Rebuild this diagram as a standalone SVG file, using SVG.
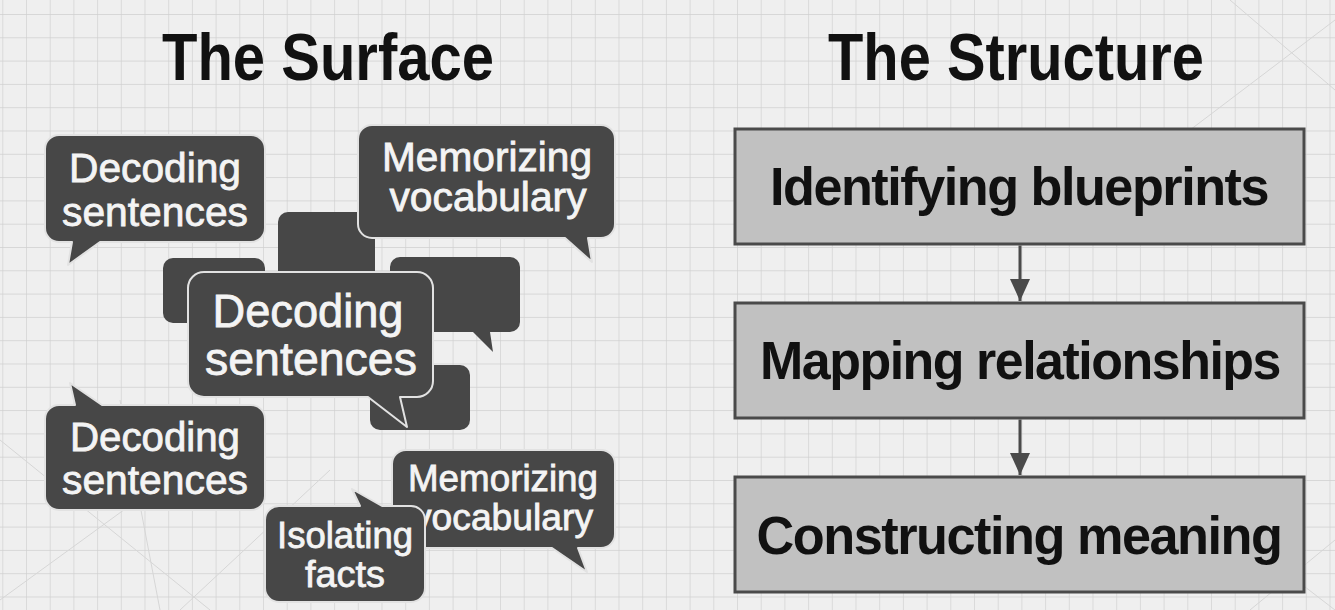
<svg xmlns="http://www.w3.org/2000/svg" width="1335" height="610" viewBox="0 0 1335 610">
<style>
.title{font-family:"Liberation Sans",Arial,sans-serif;font-weight:bold;font-size:66px;fill:#111;text-anchor:middle}
.bub{fill:#474747;stroke:#e2e2e2;stroke-width:2;stroke-linejoin:round}
.blank{fill:#474747}
.bt{font-family:"Liberation Sans",Arial,sans-serif;fill:#f4f4f4;stroke:#f4f4f4;stroke-width:0.8;text-anchor:middle}
.box{fill:#c1c1c1;stroke:#4a4a4a;stroke-width:3}
.btxt{font-family:"Liberation Sans",Arial,sans-serif;font-weight:bold;font-size:53px;letter-spacing:-1.5px;fill:#111;text-anchor:middle}
.conn{stroke:#4a4a4a;stroke-width:3;fill:none}
.diag{stroke:#d6d6d6;stroke-width:1;fill:none}
</style>
<defs>
<pattern id="grid" x="2.3" y="14" width="23.7" height="23.3" patternUnits="userSpaceOnUse">
<path d="M0,0 V23.3 M0,0 H23.7" stroke="#cfcfcf" stroke-width="1.3" fill="none"/>
</pattern>
<marker id="arr" viewBox="0 0 22 20" refX="22" refY="10" markerWidth="22" markerHeight="20" markerUnits="userSpaceOnUse" orient="auto">
<path d="M0,0 L22,10 L0,20 Z" fill="#4a4a4a"/>
</marker>
</defs>
<rect width="1335" height="610" fill="#efefef"/>
<rect width="1335" height="610" fill="url(#grid)"/>
<g id="background-lines">
<path class="diag" d="M0,440 L210,610 M0,600 L220,440 M120,400 L160,610 M180,610 L330,470 M1190,130 L1335,20 M1230,0 L1335,90 M1250,610 L1335,540 M1270,560 L1335,610"/>
</g>
<text class="title" x="328" y="80" textLength="332" lengthAdjust="spacingAndGlyphs">The Surface</text>
<text class="title" x="1016" y="80" textLength="376" lengthAdjust="spacingAndGlyphs">The Structure</text>

<g id="blank-a"><rect class="blank" x="278" y="212" width="97" height="80" rx="10"/></g>
<g id="blank-b"><rect class="blank" x="163" y="258" width="102" height="65" rx="10"/></g>
<g id="blank-c"><path class="blank" d="M400,257 H510 A10,10 0 0 1 520,267 V322 A10,10 0 0 1 510,332 H490 L493,352 L473,332 H400 A10,10 0 0 1 390,322 V267 A10,10 0 0 1 400,257 Z"/></g>
<g id="blank-d"><rect class="blank" x="370" y="365" width="100" height="65" rx="10"/></g>

<g id="bubble-decoding-1">
<path class="bub" d="M59,135 H251 A14,14 0 0 1 265,149 V228 A14,14 0 0 1 251,242 H100 L68,265 L72,242 H59 A14,14 0 0 1 45,228 V149 A14,14 0 0 1 59,135 Z"/>
<text class="bt" x="155" y="182" font-size="41" textLength="172" lengthAdjust="spacingAndGlyphs">Decoding</text>
<text class="bt" x="155" y="226" font-size="41" textLength="186" lengthAdjust="spacingAndGlyphs">sentences</text>
</g>
<g id="bubble-memorizing-1">
<path class="bub" d="M372,125 H601 A14,14 0 0 1 615,139 V224 A14,14 0 0 1 601,238 H588 L592,262 L565,238 H372 A14,14 0 0 1 358,224 V139 A14,14 0 0 1 372,125 Z"/>
<text class="bt" x="487" y="171" font-size="40" textLength="210" lengthAdjust="spacingAndGlyphs">Memorizing</text>
<text class="bt" x="488" y="211" font-size="40" textLength="197" lengthAdjust="spacingAndGlyphs">vocabulary</text>
</g>
<g id="bubble-decoding-center">
<path class="bub" d="M204,272 H417 A16,16 0 0 1 433,288 V381 A16,16 0 0 1 417,397 H400 L407,427 L368,397 H204 A16,16 0 0 1 188,381 V288 A16,16 0 0 1 204,272 Z"/>
<text class="bt" x="308" y="327" font-size="47" textLength="191" lengthAdjust="spacingAndGlyphs">Decoding</text>
<text class="bt" x="311" y="375" font-size="47" textLength="212" lengthAdjust="spacingAndGlyphs">sentences</text>
</g>
<g id="bubble-decoding-2">
<path class="bub" d="M59,405 H75 L70,383 L102,405 H251 A14,14 0 0 1 265,419 V496 A14,14 0 0 1 251,510 H59 A14,14 0 0 1 45,496 V419 A14,14 0 0 1 59,405 Z"/>
<text class="bt" x="155" y="451" font-size="40" textLength="170" lengthAdjust="spacingAndGlyphs">Decoding</text>
<text class="bt" x="155" y="494" font-size="40" textLength="186" lengthAdjust="spacingAndGlyphs">sentences</text>
</g>
<g id="bubble-memorizing-2">
<path class="bub" d="M406,450 H601 A14,14 0 0 1 615,464 V534 A14,14 0 0 1 601,548 H578 L587,572 L552,548 H406 A14,14 0 0 1 392,534 V464 A14,14 0 0 1 406,450 Z"/>
<text class="bt" x="503" y="491" font-size="37" textLength="190" lengthAdjust="spacingAndGlyphs">Memorizing</text>
<text class="bt" x="503" y="530" font-size="37" textLength="180" lengthAdjust="spacingAndGlyphs">vocabulary</text>
</g>
<g id="bubble-isolating">
<path class="bub" d="M279,506 H360 L352,489 L382,506 H411 A14,14 0 0 1 425,520 V588 A14,14 0 0 1 411,602 H279 A14,14 0 0 1 265,588 V520 A14,14 0 0 1 279,506 Z"/>
<text class="bt" x="345" y="548" font-size="37" textLength="136" lengthAdjust="spacingAndGlyphs">Isolating</text>
<text class="bt" x="345" y="587" font-size="37" textLength="80" lengthAdjust="spacingAndGlyphs">facts</text>
</g>

<g id="connectors">
<line class="conn" x1="1020" y1="245.5" x2="1020" y2="301" marker-end="url(#arr)"/>
<line class="conn" x1="1020" y1="419.5" x2="1020" y2="475" marker-end="url(#arr)"/>
</g>
<g id="box-identifying">
<rect class="box" x="735" y="129" width="569" height="115"/>
<text class="btxt" x="1019" y="205" textLength="498" lengthAdjust="spacingAndGlyphs">Identifying blueprints</text>
</g>
<g id="box-mapping">
<rect class="box" x="735" y="303" width="569" height="115"/>
<text class="btxt" x="1020" y="379" textLength="520" lengthAdjust="spacingAndGlyphs">Mapping relationships</text>
</g>
<g id="box-constructing">
<rect class="box" x="735" y="477" width="569" height="115"/>
<text class="btxt" x="1019" y="554" textLength="525" lengthAdjust="spacingAndGlyphs">Constructing meaning</text>
</g>
</svg>
